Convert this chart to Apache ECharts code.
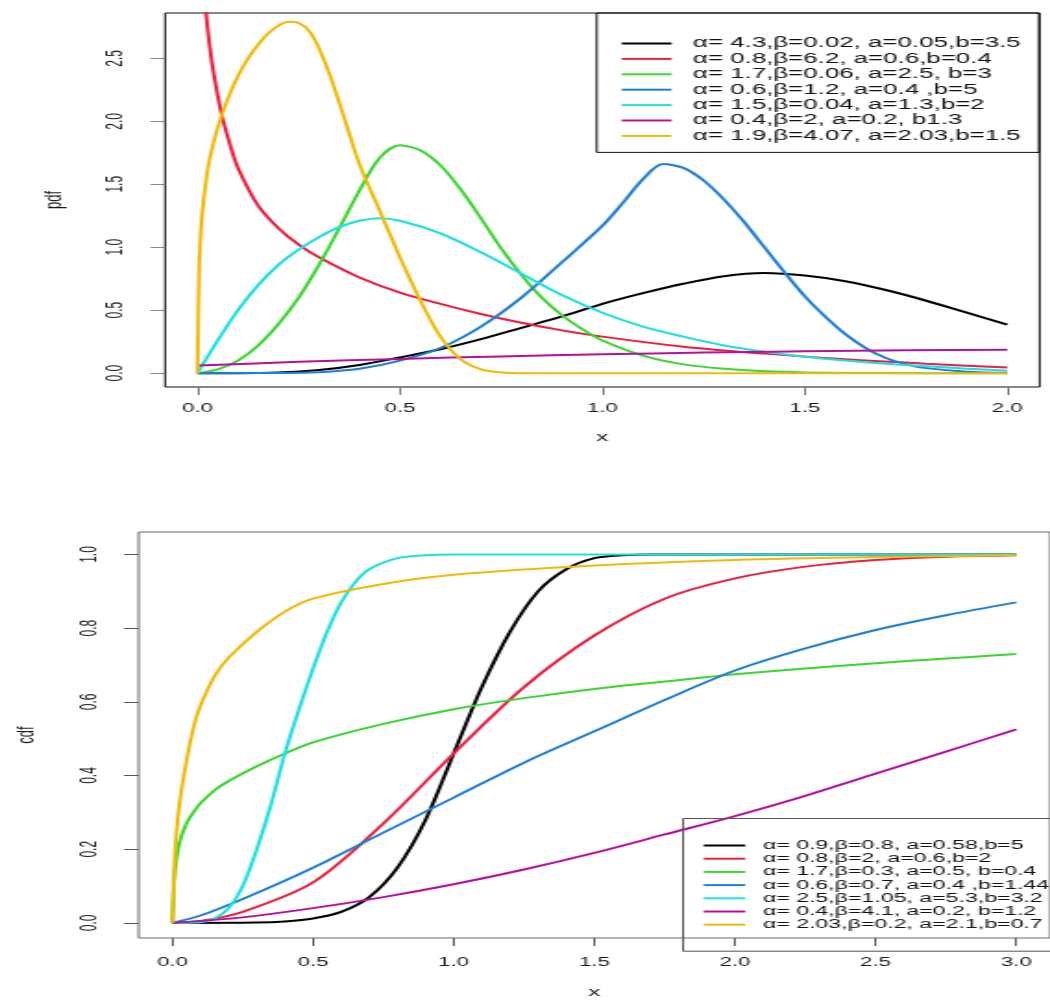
<!DOCTYPE html>
<html>
<head>
<meta charset="utf-8">
<script src="https://cdn.jsdelivr.net/npm/echarts@6/dist/echarts.min.js"></script>
<style>
html,body{margin:0;padding:0;background:#fff;overflow:hidden;}
#wrap{width:1050px;height:1003px;overflow:hidden;position:relative;}
#chart{width:568px;height:1003px;transform:scaleX(1.8486);transform-origin:0 0;}
</style>
</head>
<body>
<div id="wrap"><div id="chart"></div></div>
<script>
// ---------- DATA ----------
const colors = ['#000000', '#E8213F', '#3CD630', '#1E7FD6', '#1FDFE3', '#B5119F', '#F0BA0A'];

const pdfNames = [
  'α= 4.3,β=0.02, a=0.05,b=3.5',
  'α= 0.8,β=6.2, a=0.6,b=0.4',
  'α= 1.7,β=0.06, a=2.5, b=3',
  'α= 0.6,β=1.2, a=0.4 ,b=5',
  'α= 1.5,β=0.04, a=1.3,b=2',
  'α= 0.4,β=2, a=0.2, b1.3',
  'α= 1.9,β=4.07, a=2.03,b=1.5'
];
const cdfNames = [
  'α= 0.9,β=0.8, a=0.58,b=5',
  'α= 0.8,β=2, a=0.6,b=2',
  'α= 1.7,β=0.3, a=0.5, b=0.4',
  'α= 0.6,β=0.7, a=0.4 ,b=1.44',
  'α= 2.5,β=1.05, a=5.3,b=3.2',
  'α= 0.4,β=4.1, a=0.2, b=1.2',
  'α= 2.03,β=0.2, a=2.1,b=0.7'
];

const pdfTicksX = [0, 0.5, 1.0, 1.5, 2.0];
const pdfTicksY = [0, 0.5, 1.0, 1.5, 2.0, 2.5];
const cdfTicksX = [0, 0.5, 1.0, 1.5, 2.0, 2.5, 3.0];
const cdfTicksY = [0, 0.2, 0.4, 0.6, 0.8, 1.0];

// pdf curves
const pdfBlackX = [0,0.1,0.2,0.3,0.4,0.5,0.6,0.7,0.8,0.9,1.0,1.1,1.2,1.3,1.4,1.5,1.6,1.7,1.8,1.9,2.0];
const pdfBlackY = [0,0,0.005,0.025,0.065,0.125,0.19,0.27,0.36,0.45,0.55,0.635,0.71,0.77,0.795,0.775,0.73,0.66,0.575,0.48,0.385];

const pdfRedX = [0.012,0.02,0.03,0.04,0.06,0.08,0.1,0.15,0.2,0.25,0.3,0.4,0.5,0.6,0.7,0.8,0.9,1.0,1.2,1.4,1.6,1.8,2.0];
const pdfRedY = [3.3,2.9,2.6,2.38,2.05,1.82,1.63,1.33,1.15,1.02,0.92,0.76,0.64,0.55,0.47,0.4,0.34,0.29,0.21,0.155,0.11,0.075,0.045];

const pdfGreenX = [0,0.05,0.1,0.15,0.2,0.25,0.3,0.35,0.4,0.45,0.5,0.55,0.6,0.65,0.7,0.75,0.8,0.85,0.9,0.95,1.0,1.1,1.2,1.3,1.4,1.5,1.6,1.8,2.0];
const pdfGreenY = [0,0.03,0.1,0.22,0.39,0.6,0.86,1.15,1.45,1.71,1.81,1.77,1.65,1.46,1.23,0.99,0.78,0.6,0.46,0.35,0.26,0.14,0.07,0.035,0.015,0.006,0.002,0,0];

const pdfBlueX = [0,0.2,0.3,0.4,0.5,0.6,0.7,0.8,0.9,1.0,1.05,1.1,1.15,1.2,1.25,1.3,1.35,1.4,1.45,1.5,1.55,1.6,1.65,1.7,1.75,1.8,1.9,2.0];
const pdfBlueY = [0,0.001,0.008,0.035,0.1,0.2,0.37,0.6,0.88,1.17,1.35,1.54,1.66,1.63,1.53,1.38,1.2,1.0,0.8,0.61,0.45,0.31,0.2,0.12,0.07,0.04,0.012,0.003];

const pdfCyanX = [0,0.05,0.1,0.15,0.2,0.25,0.3,0.35,0.4,0.45,0.5,0.6,0.7,0.8,0.9,1.0,1.1,1.2,1.3,1.4,1.5,1.6,1.7,1.8,1.9,2.0];
const pdfCyanY = [0,0.26,0.5,0.7,0.86,0.98,1.08,1.16,1.21,1.23,1.21,1.11,0.96,0.79,0.62,0.48,0.37,0.29,0.22,0.17,0.13,0.1,0.075,0.055,0.035,0.02];

const pdfMagentaX = [0.002,0.25,0.5,0.75,1.0,1.25,1.5,1.75,2.0];
const pdfMagentaY = [0.06,0.09,0.113,0.133,0.15,0.163,0.174,0.181,0.186];

const pdfYellowX = [0,0.004,0.01,0.02,0.03,0.05,0.075,0.1,0.125,0.15,0.175,0.2,0.225,0.25,0.275,0.3,0.33,0.36,0.4,0.45,0.5,0.55,0.6,0.65,0.7,0.75,0.8,1.0,2.0];
const pdfYellowY = [0,0.8,1.2,1.5,1.7,1.95,2.18,2.36,2.5,2.61,2.7,2.76,2.79,2.78,2.72,2.58,2.34,2.05,1.66,1.29,0.92,0.58,0.29,0.11,0.03,0.005,0,0,0];

// cdf curves
const cdfBlackX = [0,0.3,0.4,0.5,0.6,0.7,0.8,0.9,1.0,1.1,1.2,1.3,1.4,1.5,1.6,1.7,2.0,3.0];
const cdfBlackY = [0,0.001,0.004,0.012,0.03,0.07,0.15,0.28,0.46,0.64,0.79,0.9,0.96,0.99,0.998,1.0,1.0,1.0];

const cdfRedX = [0,0.1,0.25,0.5,0.75,1.0,1.25,1.5,1.75,2.0,2.25,2.5,2.75,3.0];
const cdfRedY = [0,0.005,0.03,0.11,0.27,0.46,0.64,0.78,0.88,0.935,0.967,0.985,0.994,0.998];

const cdfGreenX = [0,0.005,0.01,0.02,0.03,0.05,0.075,0.1,0.15,0.2,0.3,0.4,0.5,0.75,1.0,1.25,1.5,1.75,2.0,2.5,3.0];
const cdfGreenY = [0,0.1,0.15,0.2,0.23,0.27,0.3,0.325,0.36,0.385,0.425,0.46,0.49,0.54,0.58,0.61,0.635,0.655,0.675,0.705,0.73];

const cdfBlueX = [0,0.1,0.25,0.5,0.75,1.0,1.25,1.5,1.75,2.0,2.25,2.5,2.75,3.0];
const cdfBlueY = [0,0.02,0.065,0.15,0.245,0.34,0.435,0.52,0.605,0.685,0.745,0.795,0.835,0.87];

const cdfCyanX = [0,0.1,0.15,0.2,0.25,0.3,0.35,0.4,0.45,0.5,0.55,0.6,0.65,0.7,0.8,0.9,1.0,2.0,3.0];
const cdfCyanY = [0,0.002,0.012,0.04,0.1,0.2,0.32,0.46,0.58,0.69,0.79,0.87,0.925,0.96,0.99,0.998,1,1,1];

const cdfMagentaX = [0,0.25,0.5,0.75,1.0,1.25,1.5,1.75,2.0,2.25,2.5,2.75,3.0];
const cdfMagentaY = [0,0.015,0.04,0.07,0.105,0.145,0.19,0.24,0.29,0.345,0.405,0.465,0.525];

const cdfYellowX = [0,0.003,0.006,0.01,0.02,0.03,0.05,0.075,0.1,0.15,0.2,0.3,0.4,0.5,0.75,1.0,1.5,2.0,2.5,3.0];
const cdfYellowY = [0,0.07,0.13,0.2,0.29,0.35,0.44,0.53,0.59,0.67,0.72,0.79,0.845,0.88,0.92,0.945,0.97,0.985,0.993,0.998];

// ---------- BUILD ----------
const pts = (xs, ys) => xs.map((x, i) => [x, ys[i]]);
const pdfData = [
  pts(pdfBlackX, pdfBlackY), pts(pdfRedX, pdfRedY), pts(pdfGreenX, pdfGreenY),
  pts(pdfBlueX, pdfBlueY), pts(pdfCyanX, pdfCyanY), pts(pdfMagentaX, pdfMagentaY),
  pts(pdfYellowX, pdfYellowY)
];
const cdfData = [
  pts(cdfBlackX, cdfBlackY), pts(cdfRedX, cdfRedY), pts(cdfGreenX, cdfGreenY),
  pts(cdfBlueX, cdfBlueY), pts(cdfCyanX, cdfCyanY), pts(cdfMagentaX, cdfMagentaY),
  pts(cdfYellowX, cdfYellowY)
];

const FONT = '"Liberation Sans", Arial, Helvetica, sans-serif';
const fmt = v => Number(v).toFixed(1);

function mkSeries(names, data, idx) {
  return names.map((n, i) => ({
    type: 'line', name: n, xAxisIndex: idx, yAxisIndex: idx,
    data: data[i], symbol: 'none', smooth: 0.3, clip: true,
    lineStyle: { width: 2, color: colors[i] },
    itemStyle: { color: colors[i] },
    emphasis: { disabled: true }, silent: true
  }));
}

function xAxis(idx, min, max, ticks, margin, nameGap, tickColor) {
  return {
    type: 'value', gridIndex: idx, min: min, max: max, position: 'bottom',
    axisLine: { show: false, onZero: false }, splitLine: { show: false },
    axisTick: { show: true, inside: false, length: 8, customValues: ticks,
      lineStyle: { color: tickColor, width: 1 } },
    axisLabel: { customValues: ticks, formatter: fmt, margin: margin,
      fontSize: 12, color: '#1a1a1a', fontFamily: FONT },
    name: 'x', nameLocation: 'middle', nameGap: nameGap,
    nameTextStyle: { fontSize: 13, color: '#1a1a1a', fontFamily: FONT }
  };
}
function yAxis(idx, min, max, ticks, margin, name, nameGap, tickColor) {
  return {
    type: 'value', gridIndex: idx, min: min, max: max, position: 'left',
    axisLine: { show: false, onZero: false }, splitLine: { show: false },
    axisTick: { show: true, inside: false, length: 8, customValues: ticks,
      lineStyle: { color: tickColor, width: 1 } },
    axisLabel: { customValues: ticks, formatter: fmt, margin: margin, rotate: 90,
      fontSize: 12, color: '#1a1a1a', fontFamily: FONT },
    name: name, nameLocation: 'middle', nameGap: nameGap, nameRotate: 90,
    nameTextStyle: { fontSize: 13, color: '#1a1a1a', fontFamily: FONT }
  };
}

const chart = echarts.init(document.getElementById('chart'), null, { renderer: 'canvas' });
chart.setOption({
  animation: false,
  backgroundColor: '#ffffff',
  grid: [
    { left: 89.3, right: 5.6, top: 13, bottom: 616, show: true, borderColor: '#111', borderWidth: 1, containLabel: false },
    { left: 73.9, right: -7.6, top: 532, bottom: 65, show: true, borderColor: '#6a6a6a', borderWidth: 1, containLabel: false }
  ],
  xAxis: [
    xAxis(0, -0.08, 2.08, pdfTicksX, 16, 44, '#777'),
    xAxis(1, -0.12, 3.12, cdfTicksX, 19, 48, '#555')
  ],
  yAxis: [
    yAxis(0, -0.11, 2.86, pdfTicksY, 21, 'pdf', 53, '#888'),
    yAxis(1, -0.041, 1.061, cdfTicksY, 20, 'cdf', 54, '#555')
  ],
  legend: [
    {
      data: pdfNames, orient: 'vertical', left: 322.8, top: 13,
      icon: 'rect', itemWidth: 27, itemHeight: 2, itemGap: 0.4,
      padding: [23, 10, 9, 13.5],
      borderColor: '#111', borderWidth: 1, borderRadius: 0,
      selectedMode: false,
      textStyle: { fontSize: 14, lineHeight: 15, color: '#111', fontFamily: FONT, padding: [0, 0, 0, 6.5] }
    },
    {
      data: cdfNames, orient: 'vertical', left: 369.5, top: 818.5,
      icon: 'rect', itemWidth: 22.6, itemHeight: 2, itemGap: 0.2,
      padding: [20.5, 30, 20, 11.1],
      borderColor: '#555', borderWidth: 1, borderRadius: 0,
      selectedMode: false,
      textStyle: { fontSize: 12.5, lineHeight: 13, color: '#111', fontFamily: FONT, padding: [0, 0, 0, 4.5] }
    }
  ],
  series: mkSeries(pdfNames, pdfData, 0).concat(mkSeries(cdfNames, cdfData, 1))
});
</script>
</body>
</html>
